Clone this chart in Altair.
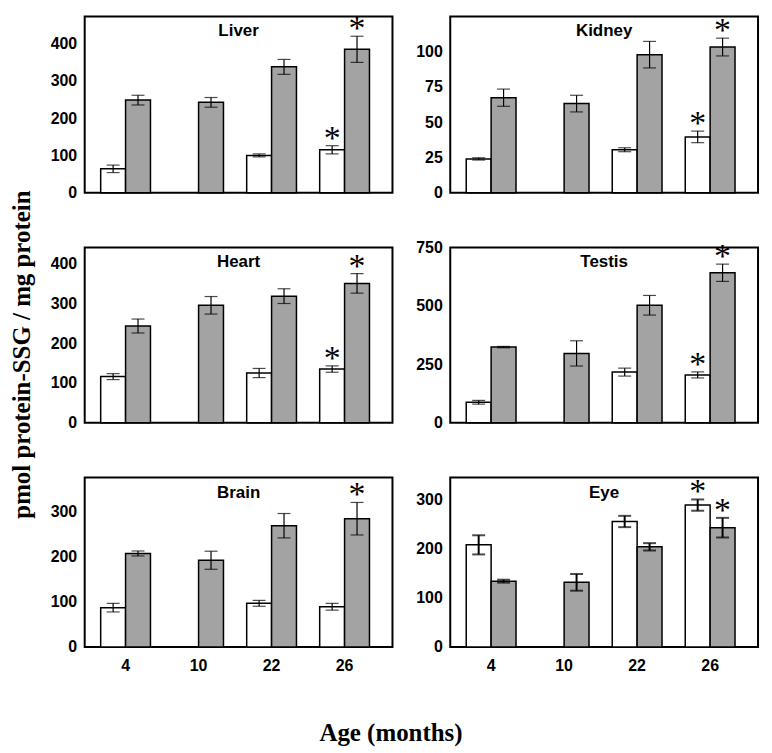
import altair as alt
import pandas as pd

ages = ["4", "10", "22", "26"]
organs = ["Liver", "Kidney", "Heart", "Testis", "Brain", "Eye"]

# white bars (None = no bar), gray bars, errors, asterisk flags
liver_white = [64, None, 100, 115]
liver_white_err = [10, None, 4, 11]
liver_gray = [248, 242, 337, 384]
liver_gray_err = [13, 13, 20, 35]
liver_star_white = [0, 0, 0, 1]
liver_star_gray = [0, 0, 0, 1]

kidney_white = [24, None, 30.5, 39.6]
kidney_white_err = [0.8, None, 1.4, 4.1]
kidney_gray = [67.4, 63.2, 97.9, 103.3]
kidney_gray_err = [6.1, 5.9, 9.4, 6.3]
kidney_star_white = [0, 0, 0, 1]
kidney_star_gray = [0, 0, 0, 1]

heart_white = [116, None, 125, 135]
heart_white_err = [7.5, None, 11.5, 8]
heart_gray = [243, 295, 318, 350]
heart_gray_err = [17.5, 22, 18.5, 24.5]
heart_star_white = [0, 0, 0, 1]
heart_star_gray = [0, 0, 0, 1]

testis_white = [88, None, 217, 205]
testis_white_err = [8, None, 17, 13]
testis_gray = [324, 297, 503, 642]
testis_gray_err = [3, 54, 42, 37]
testis_star_white = [0, 0, 0, 1]
testis_star_gray = [0, 0, 0, 1]

brain_white = [87, None, 96.6, 89]
brain_white_err = [9.5, None, 6.5, 7.5]
brain_gray = [207, 192, 268.5, 284]
brain_gray_err = [5.5, 20, 27, 36]
brain_star_white = [0, 0, 0, 0]
brain_star_gray = [0, 0, 0, 1]

eye_white = [208, None, 255.6, 289]
eye_white_err = [19.5, None, 11.5, 11.5]
eye_gray = [134, 131.6, 204, 243]
eye_gray_err = [3, 17, 7.5, 20]
eye_star_white = [0, 0, 0, 1]
eye_star_gray = [0, 0, 0, 1]

y_max = [472, 125, 440, 750, 375, 345]
y_ticks = [
    [0, 100, 200, 300, 400],
    [0, 25, 50, 75, 100],
    [0, 100, 200, 300, 400],
    [0, 250, 500, 750],
    [0, 100, 200, 300],
    [0, 100, 200, 300],
]

series = {
    "Liver": (liver_white, liver_white_err, liver_gray, liver_gray_err, liver_star_white, liver_star_gray),
    "Kidney": (kidney_white, kidney_white_err, kidney_gray, kidney_gray_err, kidney_star_white, kidney_star_gray),
    "Heart": (heart_white, heart_white_err, heart_gray, heart_gray_err, heart_star_white, heart_star_gray),
    "Testis": (testis_white, testis_white_err, testis_gray, testis_gray_err, testis_star_white, testis_star_gray),
    "Brain": (brain_white, brain_white_err, brain_gray, brain_gray_err, brain_star_white, brain_star_gray),
    "Eye": (eye_white, eye_white_err, eye_gray, eye_gray_err, eye_star_white, eye_star_gray),
}

W = 309
heights = [177, 177, 176, 176, 170, 170]
groups = ["white", "gray"]


def make_df(name):
    w, we, g, ge, sw, sg = series[name]
    rows = []
    for i, a in enumerate(ages):
        if w[i] is not None:
            rows.append(dict(age=a, group="white", value=w[i], lo=w[i] - we[i], hi=w[i] + we[i], star=sw[i]))
        rows.append(dict(age=a, group="gray", value=g[i], lo=g[i] - ge[i], hi=g[i] + ge[i], star=sg[i]))
    return pd.DataFrame(rows)


def panel(idx, name):
    df = make_df(name)
    h = heights[idx]
    bottom = idx >= 4
    if bottom:
        if name == "Brain":
            xaxis = alt.Axis(labelAngle=0, title="Age (months)", titleFont="Liberation Serif",
                             titleFontSize=25, titleFontWeight="bold", titleColor="black",
                             titleX=307, titleY=74, labelPadding=11)
        else:
            xaxis = alt.Axis(labelAngle=0, title=None, labelPadding=11)
    else:
        xaxis = None
    if name == "Heart":
        yaxis = alt.Axis(values=y_ticks[idx], title="pmol protein-SSG / mg protein",
                         titleFont="Liberation Serif", titleFontSize=25, titleFontWeight="bold",
                         titleColor="black", titleX=-63, titleY=107, titleBaseline="middle",
                         titleAlign="center", titleAngle=270)
    else:
        yaxis = alt.Axis(values=y_ticks[idx], title=None)

    xs = alt.Scale(domain=ages, paddingInner=0.318, paddingOuter=0.267, align=0.41)
    x = alt.X("age:N", scale=xs, axis=xaxis, sort=ages)
    xo = alt.XOffset("group:N", scale=alt.Scale(domain=groups, paddingInner=0, paddingOuter=0))
    ys = alt.Scale(domain=[0, y_max[idx]], nice=False, zero=True)

    base = alt.Chart(df)
    lw = 2 if name == "Eye" else 1.2
    bars = base.mark_bar(stroke="black", strokeWidth=1.5).encode(
        x=x, xOffset=xo,
        y=alt.Y("value:Q", scale=ys, axis=yaxis),
        fill=alt.Fill("group:N", scale=alt.Scale(domain=groups, range=["#ffffff", "#a3a3a3"]), legend=None),
    )
    rules = base.mark_rule(color="black", strokeWidth=lw).encode(
        x=x, xOffset=xo, y=alt.Y("lo:Q", scale=ys, axis=yaxis), y2="hi:Q"
    )
    cap_hi = base.mark_tick(color="black", size=13, thickness=lw).encode(
        x=x, xOffset=xo, y=alt.Y("hi:Q", scale=ys, axis=yaxis)
    )
    cap_lo = base.mark_tick(color="black", size=13, thickness=lw).encode(
        x=x, xOffset=xo, y=alt.Y("lo:Q", scale=ys, axis=yaxis)
    )
    stars = base.transform_filter("datum.star == 1").mark_text(
        text="*", font="Liberation Serif", fontSize=34, fontWeight="normal", color="black",
        baseline="alphabetic", dy=3,
    ).encode(x=x, xOffset=xo, y=alt.Y("hi:Q", scale=ys, axis=yaxis))
    title = alt.Chart(pd.DataFrame({"t": [name]})).mark_text(
        font="Liberation Sans", fontSize=17, fontWeight="bold", color="black", baseline="middle"
    ).encode(x=alt.value(W / 2), y=alt.value(15), text="t:N")

    return alt.layer(bars, rules, cap_hi, cap_lo, stars, title).properties(width=W, height=h)


panels = [panel(i, n) for i, n in enumerate(organs)]

chart = alt.concat(*panels, columns=2, spacing={"row": 55, "column": 58}, bounds="flush").properties(
    padding={"left": 0, "top": 1, "right": 5, "bottom": 5}
).configure_view(
    stroke="black", strokeWidth=2
).configure_axis(
    labelFont="Liberation Sans", labelFontWeight="bold", labelFontSize=16, labelColor="black",
    ticks=False, domain=False, grid=False, labelPadding=8,
)

chart.save("out.html", embed_options={"renderer": "svg", "actions": False})
